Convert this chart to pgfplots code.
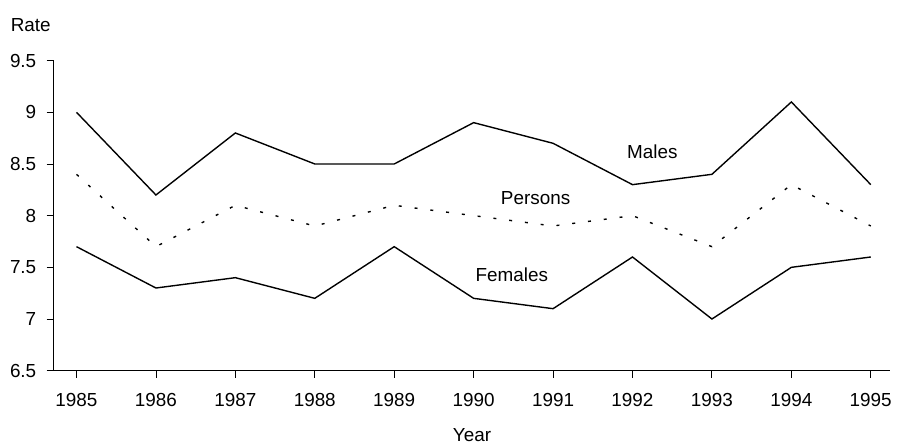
\documentclass[border=0pt]{standalone}
\usepackage{pgfplots}
\pgfplotsset{compat=1.18}
\usepackage{fontspec}
\setmainfont{Liberation Sans}
\begin{document}
\fontsize{19}{22}\selectfont
\begin{tikzpicture}
\begin{axis}[
  name=ax,
  scale only axis,
  width=842pt, height=312pt,
  xmin=1984.7125, xmax=1995.2475,
  ymin=6.5, ymax=9.5,
  axis lines=left,
  axis line style={-, line width=1.2pt},
  xtick={1985,...,1995},
  ytick={6.5,7,7.5,8,8.5,9,9.5},
  xticklabels={1985,1986,1987,1988,1989,1990,1991,1992,1993,1994,1995},
  yticklabels={6.5,7,7.5,8,8.5,9,9.5},
  tick align=outside,
  major tick length=7pt,
  tick style={black, line width=0.8pt},
  ticklabel style={font=\fontsize{19}{22}\selectfont},
  xticklabel style={yshift=-9pt},
  yticklabel style={xshift=-4pt},
  /pgf/number format/assume math mode=true,
  xlabel={Year},
  xlabel style={font=\fontsize{19}{22}\selectfont, yshift=-9pt},
  clip=false,
]
\addplot[black, line width=1.4pt] coordinates {
(1985,9.0) (1986,8.2) (1987,8.8) (1988,8.5) (1989,8.5) (1990,8.9) (1991,8.7) (1992,8.3) (1993,8.4) (1994,9.1) (1995,8.3)};
\addplot[black, line width=1.4pt, dash pattern=on 3pt off 13pt] coordinates {
(1985,8.4) (1986,7.7) (1987,8.1) (1988,7.9) (1989,8.1) (1990,8.0) (1991,7.9) (1992,8.0) (1993,7.7) (1994,8.3) (1995,7.9)};
\addplot[black, line width=1.4pt] coordinates {
(1985,7.7) (1986,7.3) (1987,7.4) (1988,7.2) (1989,7.7) (1990,7.2) (1991,7.1) (1992,7.6) (1993,7.0) (1994,7.5) (1995,7.6)};
\node at (axis cs:1992.25,8.615) {Males};
\node at (axis cs:1990.78,8.173) {Persons};
\node at (axis cs:1990.48,7.433) {Females};
\node at (rel axis cs:0,1) [xshift=-23pt, yshift=36pt] {Rate};
\end{axis}
\path ([xshift=-54pt,yshift=61pt]ax.north west) ([xshift=2pt,yshift=-68pt]ax.south east);
\end{tikzpicture}
\end{document}
